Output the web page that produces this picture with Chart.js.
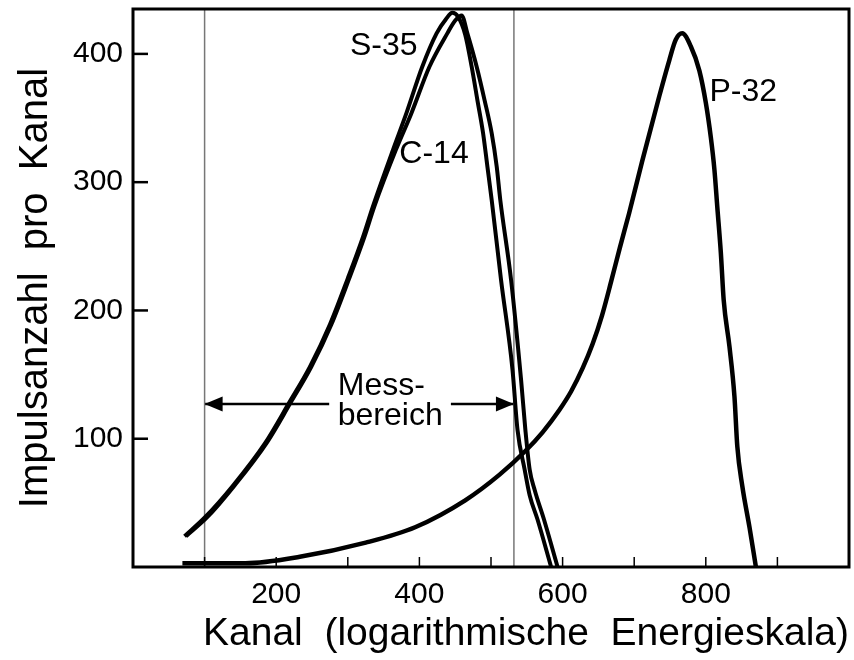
<!DOCTYPE html>
<html>
<head>
<meta charset="utf-8">
<script src="https://cdn.jsdelivr.net/npm/chart.js@4.4.1/dist/chart.umd.min.js"></script>
<style>
    html, body { margin: 0; padding: 0; background: #fff; }
</style>
</head>
<body>
<canvas id="spektrum" width="854" height="660"></canvas>
<script>
// Werte (Kanal / Impulse pro Kanal)
const s35Kanal   = [72, 101, 139, 185, 218, 247, 275, 300, 321, 335, 363, 382, 404, 424, 437, 446, 454, 464, 473, 481, 489, 495, 501, 514, 530, 537, 547, 554, 565, 584];
const s35Impulse = [24, 39, 63, 97, 128, 156, 189, 225, 257, 281, 325, 354, 390, 416, 427, 432, 429, 415, 390, 364, 338, 312, 286, 224, 154, 107, 76, 56, 37, 0];

const c14Kanal   = [74, 104, 141, 187, 220, 249, 277, 302, 323, 337, 367, 389, 414, 439, 450, 459, 467, 480, 491, 501, 508, 513, 528, 542, 548, 554, 561, 574, 593];
const c14Impulse = [24, 39, 63, 97, 128, 156, 189, 225, 257, 281, 325, 354, 390, 416, 426, 430, 416, 390, 364, 338, 312, 286, 224, 146, 107, 76, 60, 37, 0];

const p32Kanal   = [69, 157, 233, 325, 394, 464, 512, 549, 572, 595, 612, 628, 642, 655, 668, 680, 693, 711, 735, 749, 758, 767, 779, 791, 800, 807, 812, 816, 821, 825, 833, 840, 844, 851, 861, 870];
const p32Impulse = [3, 3, 8, 19, 31, 52, 72, 91, 105, 122, 137, 155, 174, 196, 223, 249, 276, 316, 367, 395, 411, 416, 406, 387, 362, 335, 310, 281, 245, 208, 172, 133, 94, 63, 31, 0];

// Achsen
const xMax = 1000;
const yMax = 435;
const xBeschriftet = [200, 400, 600, 800];

// Messbereich
const messGrenzen = [100, 532];
const pfeilHoehe = 127;
const pfeilLinks = [100, 274];
const pfeilRechts = [444, 532];

// Beschriftungen im Diagramm
const labelTexte  = ['S-35', 'C-14', 'P-32', 'Mess-', 'bereich'];
const labelKanal  = [303, 372, 805, 286, 286];
const labelImpuls = [399, 315, 363, 134, 111];

const schrift = '"Liberation Sans", Arial, sans-serif';

function punkte(kanal, werte) {
    return kanal.map((k, i) => ({ x: k, y: werte[i] }));
}

function kurve(name, kanal, werte, breite) {
    return {
        label: name,
        data: punkte(kanal, werte),
        borderColor: '#000',
        borderWidth: breite,
        pointRadius: 0,
        cubicInterpolationMode: 'monotone',
        fill: false,
        order: 1
    };
}

function gerade(daten, farbe, breite) {
    return {
        data: daten,
        borderColor: farbe,
        borderWidth: breite,
        pointRadius: 0,
        fill: false,
        order: 2
    };
}

// Rahmen, Striche nach innen, Pfeilspitzen und Texte
const zusatz = {
    id: 'zusatz',
    afterDraw(chart) {
        const ctx = chart.ctx;
        const a = chart.chartArea;
        const xs = chart.scales.x;
        const ys = chart.scales.y;
        ctx.save();

        // Teilstriche innen
        ctx.strokeStyle = '#000';
        ctx.lineWidth = 1.5;
        xs.ticks.forEach(t => {
            if (t.value <= 0 || t.value >= xMax) return;
            const px = xs.getPixelForValue(t.value);
            ctx.beginPath();
            ctx.moveTo(px, a.bottom);
            ctx.lineTo(px, a.bottom - 10);
            ctx.stroke();
        });
        ctx.lineWidth = 2.5;
        ys.ticks.forEach(t => {
            if (t.value <= 0) return;
            const py = ys.getPixelForValue(t.value);
            ctx.beginPath();
            ctx.moveTo(a.left, py);
            ctx.lineTo(a.left + 15, py);
            ctx.stroke();
        });

        // Rahmen
        ctx.lineWidth = 3;
        ctx.strokeRect(a.left, a.top, a.right - a.left, a.bottom - a.top);

        // Pfeilspitzen
        const py = ys.getPixelForValue(pfeilHoehe);
        const spitze = (x, richtung) => {
            ctx.beginPath();
            ctx.moveTo(x, py);
            ctx.lineTo(x + richtung * 18, py - 7.5);
            ctx.lineTo(x + richtung * 18, py + 7.5);
            ctx.closePath();
            ctx.fillStyle = '#000';
            ctx.fill();
        };
        spitze(xs.getPixelForValue(pfeilLinks[0]), 1);
        spitze(xs.getPixelForValue(pfeilRechts[1]), -1);

        // Texte
        ctx.fillStyle = '#000';
        ctx.font = '32px ' + schrift;
        ctx.textAlign = 'left';
        ctx.textBaseline = 'alphabetic';
        labelTexte.forEach((txt, i) => {
            ctx.fillText(txt, xs.getPixelForValue(labelKanal[i]), ys.getPixelForValue(labelImpuls[i]));
        });
        ctx.restore();
    }
};

const chart = new Chart(document.getElementById('spektrum'), {
    type: 'line',
    data: {
        datasets: [
            kurve('S-35', s35Kanal, s35Impulse, 4),
            kurve('C-14', c14Kanal, c14Impulse, 4),
            kurve('P-32', p32Kanal, p32Impulse, 4.5),
            gerade([{ x: messGrenzen[0], y: 0 }, { x: messGrenzen[0], y: yMax }], '#777', 1.5),
            gerade([{ x: messGrenzen[1], y: 0 }, { x: messGrenzen[1], y: yMax }], '#777', 1.5),
            gerade([{ x: pfeilLinks[0], y: pfeilHoehe }, { x: pfeilLinks[1], y: pfeilHoehe }], '#000', 2.5),
            gerade([{ x: pfeilRechts[0], y: pfeilHoehe }, { x: pfeilRechts[1], y: pfeilHoehe }], '#000', 2.5)
        ]
    },
    options: {
        responsive: false,
        animation: false,
        layout: { padding: { top: 9, right: 5, left: 0, bottom: 0 } },
        plugins: {
            legend: { display: false },
            tooltip: { enabled: false }
        },
        scales: {
            x: {
                type: 'linear',
                min: 0,
                max: xMax,
                afterFit(scale) {
                    scale.height = 93;
                    scale.paddingLeft = 0;
                    scale.paddingRight = 0;
                },
                grid: { display: false, drawTicks: false },
                border: { display: false },
                ticks: {
                    stepSize: 100,
                    autoSkip: false,
                    maxRotation: 0,
                    padding: 10,
                    color: '#000',
                    font: { family: schrift, size: 30 },
                    callback: v => xBeschriftet.includes(v) ? String(v) : ''
                },
                title: {
                    display: true,
                    text: 'Kanal  (logarithmische  Energieskala)',
                    align: 'end',
                    color: '#000',
                    font: { family: schrift, size: 39 },
                    padding: { top: 0, bottom: 2 }
                }
            },
            y: {
                min: 0,
                max: yMax,
                afterFit(scale) {
                    scale.width = 133;
                    scale.paddingTop = 0;
                    scale.paddingBottom = 0;
                },
                grid: { display: false, drawTicks: false },
                border: { display: false },
                ticks: {
                    stepSize: 100,
                    includeBounds: false,
                    padding: 10,
                    color: '#000',
                    font: { family: schrift, size: 30 },
                    callback: v => v === 0 ? '' : String(v)
                },
                title: {
                    display: true,
                    text: 'Impulsanzahl  pro  Kanal',
                    color: '#000',
                    font: { family: schrift, size: 40 },
                    padding: { top: 12, bottom: 0 }
                }
            }
        }
    },
    plugins: [zusatz]
});
</script>
</body>
</html>
